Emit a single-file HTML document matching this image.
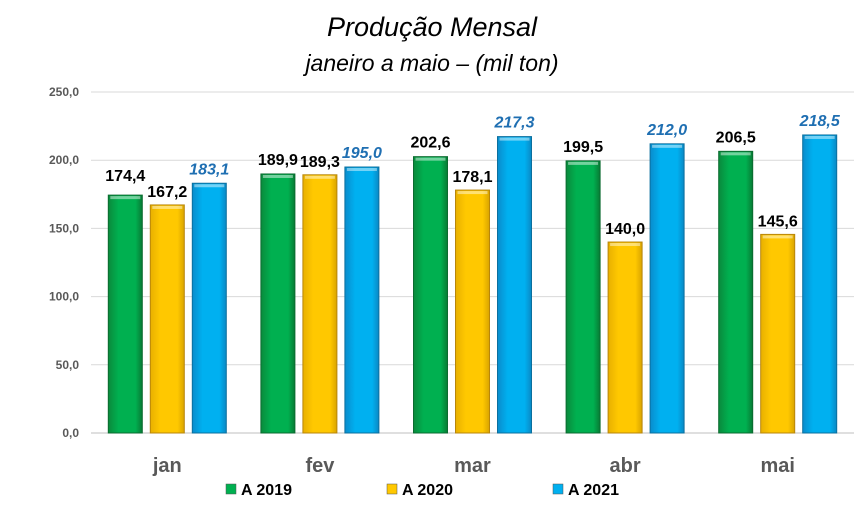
<!DOCTYPE html>
<html><head><meta charset="utf-8"><style>
body{margin:0;background:#fff;}
svg text{font-family:"Liberation Sans",sans-serif;}
</style></head><body>
<svg id="chart" width="865" height="521" xmlns="http://www.w3.org/2000/svg">
<defs>
<linearGradient id="gG" x1="0" x2="1"><stop offset="0" stop-color="#0a8a3c"/><stop offset="0.3" stop-color="#00b050"/><stop offset="0.8" stop-color="#00b050"/><stop offset="1" stop-color="#087a34"/></linearGradient>
<linearGradient id="gY" x1="0" x2="1"><stop offset="0" stop-color="#e8b000"/><stop offset="0.3" stop-color="#ffc800"/><stop offset="0.8" stop-color="#ffc800"/><stop offset="1" stop-color="#d9a400"/></linearGradient>
<linearGradient id="gB" x1="0" x2="1"><stop offset="0" stop-color="#0a8ccc"/><stop offset="0.3" stop-color="#00b0f0"/><stop offset="0.8" stop-color="#00b0f0"/><stop offset="1" stop-color="#0a88c4"/></linearGradient>
</defs>
<text x="432" y="36" text-anchor="middle" font-size="27" font-style="italic" fill="#000">Produção Mensal</text>
<text x="432" y="71" text-anchor="middle" font-size="23" font-style="italic" fill="#000">janeiro a maio – (mil ton)</text>
<g id="axes"></g>
<g id="bars"></g>
<g id="legend"></g>
</svg>
<script>
const categories=["jan","fev","mar","abr","mai"];
const s2019=[174.4,189.9,202.6,199.5,206.5];
const s2020=[167.2,189.3,178.1,140.0,145.6];
const s2021=[183.1,195.0,217.3,212.0,218.5];
const ticks=[0,50,100,150,200,250];
const seriesNames=["A 2019","A 2020","A 2021"];
const NS="http://www.w3.org/2000/svg";
const svg=document.getElementById('chart');
const left=91,right=854,y0=433,yTop=92,ymax=250;
const y=v=>y0-(v/ymax)*(y0-yTop);
const bw=(right-left)/categories.length;
const cx=i=>left+bw*(i+0.5);
function mk(t,a,p){const e=document.createElementNS(NS,t);for(const k in a)e.setAttribute(k,a[k]);p.appendChild(e);return e;}
const fmt=v=>v.toFixed(1).replace('.',',');
const axes=document.getElementById('axes');
ticks.forEach(t=>{
 const l=mk('line',{x1:left,x2:right,y1:y(t),y2:y(t),stroke:t===0?'#bfbfbf':'#d9d9d9','stroke-width':1},axes);
 
 
 const tx=mk('text',{x:79,y:y(t)+4,'text-anchor':'end','font-size':12,'font-weight':'bold',fill:'#595959'},axes);
 tx.textContent=fmt(t);
 
 
});
categories.forEach((c,i)=>{
 const tx=mk('text',{x:cx(i),y:472,'text-anchor':'middle','font-size':20,'font-weight':'bold',fill:'#595959'},axes);
 tx.textContent=c;
 
 
});
const bars=document.getElementById('bars');
const series=[[s2019,'url(#gG)','#0b6b30','#000',false],[s2020,'url(#gY)','#b8860b','#000',false],[s2021,'url(#gB)','#0b6f9e','#1f6fb2',true]];
series.forEach((s,si)=>{
 s[0].forEach((v,i)=>{
  const x=cx(i)+(si-1)*42-17;
  const r=mk('rect',{x:x,y:y(v),width:34,height:y0-y(v),fill:s[1],stroke:s[2],'stroke-width':1},bars);
  
  
  const hl=mk('rect',{x:x+2,y:y(v)+1,width:30,height:3,fill:'#fff',opacity:0.45},bars);
  
  
  const ly=(si===1)?y(v)-8:y(v)-9;
  const t=mk('text',{x:x+17,y:ly,'text-anchor':'middle','font-size':16,'font-weight':'bold',fill:s[3]},bars);
  if(s[4])t.setAttribute('font-style','italic');
  if(si===0&&i===0){t.setAttribute('y',y(v)-14);}
  t.textContent=fmt(v);
  
  
 });
});
const lg=document.getElementById('legend');
const lx=[226,387,553];const lf=['#00b050','#ffc800','#00b0f0'];
seriesNames.forEach((n,i)=>{
 const r=mk('rect',{x:lx[i],y:484,width:10,height:10,fill:lf[i],stroke:'#555','stroke-width':0.5},lg);
 
 
 const t=mk('text',{x:lx[i]+15,y:495,'font-size':16,'font-weight':'bold',fill:'#000'},lg);
 t.textContent=n;
 
 
});
</script>
</body></html>
